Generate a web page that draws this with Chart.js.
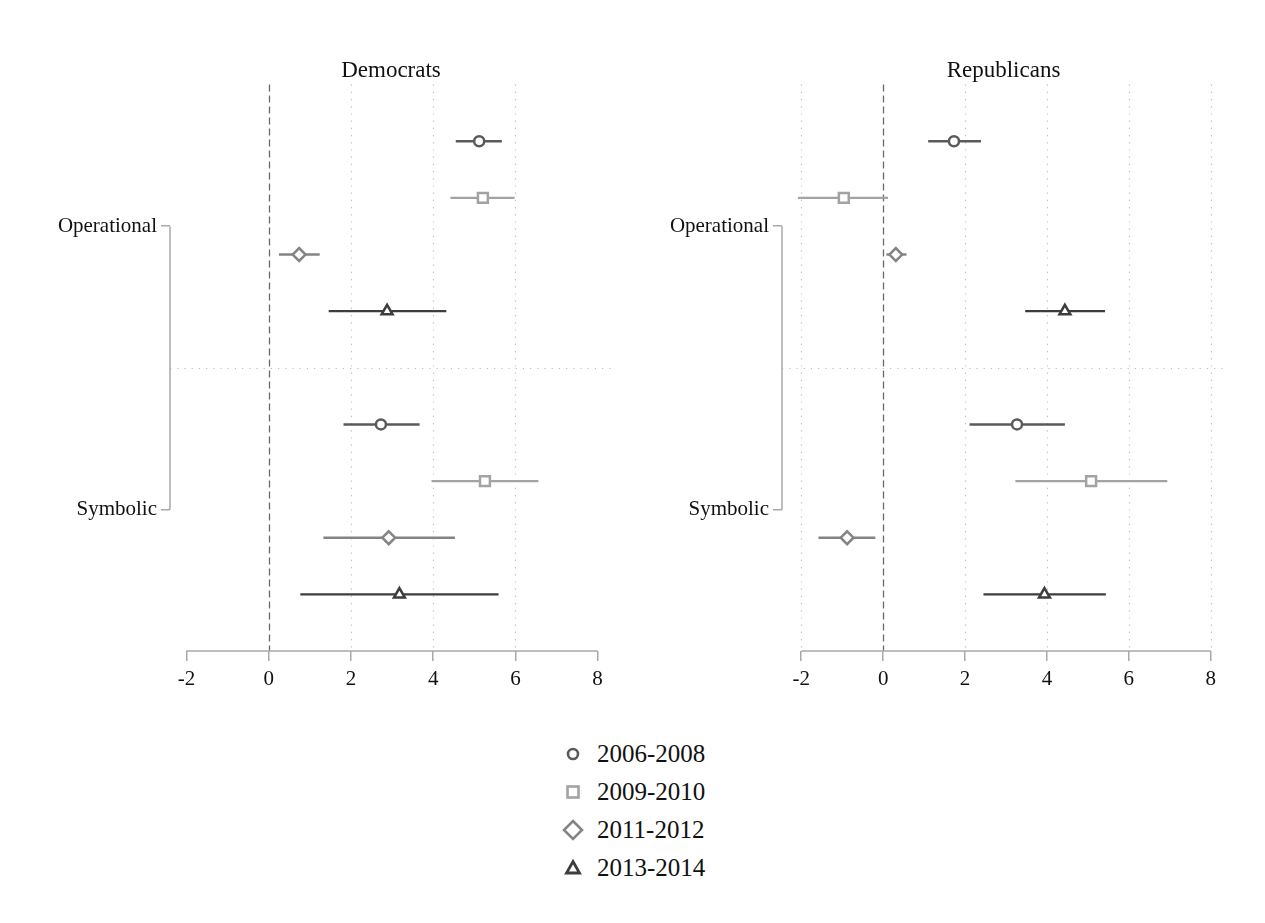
<!DOCTYPE html>
<html>
<head>
<meta charset="utf-8">
<script src="https://cdn.jsdelivr.net/npm/chart.js@4.4.1/dist/chart.umd.min.js"></script>
<style>
  body { margin: 0; background: #fff; width: 1265px; height: 923px; position: relative; overflow: hidden; font-family: "Liberation Serif", serif; }
  .panel { position: absolute; top: 0; height: 700px; }
  #demWrap { left: 0; width: 632px; }
  #repWrap { left: 612px; width: 633px; }
  #legend { position: absolute; left: 560px; top: 735px; }
  #legend .row { height: 38px; display: flex; align-items: center; font-size: 25px; color: #111; }
  #legend svg { width: 26px; height: 26px; margin-right: 11px; }
</style>
</head>
<body>
<div id="demWrap" class="panel"><canvas id="dem"></canvas></div>
<div id="repWrap" class="panel"><canvas id="rep"></canvas></div>
<div id="legend"></div>

<script>
// values ordered: Operational (4 periods), then Symbolic (4 periods)
const periods = ['2006-2008', '2009-2010', '2011-2012', '2013-2014'];
const groups = ['Operational', 'Symbolic'];
const xTicks = [-2, 0, 2, 4, 6, 8];

const demEst = [5.12, 5.21, 0.74, 2.88, 2.73, 5.26, 2.92, 3.18];
const demLo  = [4.55, 4.42, 0.25, 1.46, 1.82, 3.96, 1.33, 0.77];
const demHi  = [5.67, 5.98, 1.24, 4.32, 3.67, 6.56, 4.53, 5.59];

const repEst = [1.73, -0.96, 0.31, 4.44, 3.27, 5.08, -0.88, 3.94];
const repLo  = [1.10, -2.08, 0.08, 3.47, 2.11, 3.23, -1.58, 2.45];
const repHi  = [2.39, 0.12, 0.57, 5.42, 4.44, 6.94, -0.19, 5.44];

const colors = ['#5a5a5a', '#a3a3a3', '#848484', '#3d3d3d'];
const shapes = ['circle', 'rect', 'rectRot', 'triangle'];
const radii = [5, 7, 6.4, 6.3];

const FONT = '"Liberation Serif", "Times New Roman", serif';

// row position on the y scale: group g, period p
function rowOf(i) {
  const g = Math.floor(i / 4), p = i % 4;
  return g * 5 + p + 1;
}

function buildDatasets(est, lo, hi) {
  const sets = [];
  est.forEach((v, i) => {
    const p = i % 4;
    sets.push({
      type: 'line',
      data: [{ x: lo[i], y: rowOf(i) }, { x: hi[i], y: rowOf(i) }],
      borderColor: colors[p],
      borderWidth: 2.4,
      pointRadius: 0,
      order: 2
    });
  });
  periods.forEach((name, p) => {
    const pts = [];
    est.forEach((v, i) => { if (i % 4 === p) pts.push({ x: v, y: rowOf(i) }); });
    sets.push({
      type: 'scatter',
      label: name,
      data: pts,
      pointStyle: shapes[p],
      pointRadius: radii[p],
      pointBorderWidth: 2.5,
      borderColor: colors[p],
      backgroundColor: '#fff',
      order: 1
    });
  });
  return sets;
}

const decor = {
  id: 'decor',
  beforeDatasetsDraw(chart, args, opts) {
    const { ctx, chartArea: a, scales: { x, y } } = chart;
    ctx.save();
    // dotted grid
    ctx.strokeStyle = '#bdbdbd';
    ctx.lineWidth = 1.2;
    ctx.setLineDash([1.2, 6]);
    opts.grid.forEach(v => {
      const px = Math.round(x.getPixelForValue(v)) + 0.5;
      ctx.beginPath(); ctx.moveTo(px, a.top); ctx.lineTo(px, a.bottom); ctx.stroke();
    });
    // separator between groups
    const sy = Math.round(y.getPixelForValue(5)) + 0.5;
    ctx.beginPath(); ctx.moveTo(a.left, sy); ctx.lineTo(a.right, sy); ctx.stroke();
    // zero reference
    ctx.strokeStyle = '#6a6a6a';
    ctx.lineWidth = 1.3;
    ctx.setLineDash([7, 4]);
    const zx = Math.round(x.getPixelForValue(0)) + 0.5;
    ctx.beginPath(); ctx.moveTo(zx, a.top); ctx.lineTo(zx, a.bottom); ctx.stroke();
    // bracket (y axis line between group ticks)
    ctx.setLineDash([]);
    ctx.strokeStyle = '#a8a8a8';
    ctx.lineWidth = 1.5;
    ctx.beginPath();
    ctx.moveTo(a.left, y.getPixelForValue(2.5));
    ctx.lineTo(a.left, y.getPixelForValue(7.5));
    ctx.stroke();
    // x axis line
    ctx.beginPath();
    ctx.moveTo(x.getPixelForValue(-2), a.bottom);
    ctx.lineTo(x.getPixelForValue(8), a.bottom);
    ctx.stroke();
    ctx.restore();
  }
};

function makeChart(id, title, est, lo, hi, gridVals, xMin) {
  return new Chart(document.getElementById(id), {
    data: { datasets: buildDatasets(est, lo, hi) },
    plugins: [decor],
    options: {
      responsive: true,
      maintainAspectRatio: false,
      animation: false,
      layout: { padding: { left: 20, right: 20, top: 0, bottom: 0 } },
      plugins: {
        legend: { display: false },
        tooltip: { enabled: false },
        title: {
          display: true, text: title, fullSize: false, color: '#111',
          font: { family: FONT, size: 23, weight: 'normal' },
          padding: { top: 57, bottom: 0 }
        },
        decor: { grid: gridVals }
      },
      scales: {
        x: {
          type: 'linear', min: xMin, max: 8.35,
          afterBuildTicks: s => { s.ticks = xTicks.map(v => ({ value: v })); },
          afterFit: s => { s.height = 49; },
          grid: { drawOnChartArea: false, drawTicks: true, tickLength: 10, color: '#a8a8a8', lineWidth: 1.5 },
          border: { display: false },
          ticks: { color: '#111', padding: 6, maxRotation: 0, font: { family: FONT, size: 21 } }
        },
        y: {
          type: 'linear', min: 0, max: 10, reverse: true,
          afterBuildTicks: s => { s.ticks = [{ value: 2.5 }, { value: 7.5 }]; },
          afterFit: s => { s.width = 150; },
          grid: { drawOnChartArea: false, drawTicks: true, tickLength: 9, color: '#a8a8a8', lineWidth: 1.5 },
          border: { display: false },
          ticks: {
            color: '#111', padding: 4, font: { family: FONT, size: 21 },
            callback: v => (v === 2.5 ? groups[0] : v === 7.5 ? groups[1] : '')
          }
        }
      }
    }
  });
}

makeChart('dem', 'Democrats', demEst, demLo, demHi, [2, 4, 6], -2.4);
makeChart('rep', 'Republicans', repEst, repLo, repHi, [-2, 2, 4, 6, 8], -2.47);

// legend
const marks = [
  '<circle cx="13" cy="13" r="5" fill="#fff" stroke="' + colors[0] + '" stroke-width="2.6"/>',
  '<rect x="7.5" y="7.5" width="11" height="11" fill="#fff" stroke="' + colors[1] + '" stroke-width="2.6"/>',
  '<polygon points="13,4 22,13 13,22 4,13" fill="#fff" stroke="' + colors[2] + '" stroke-width="2.6"/>',
  '<polygon points="13,6.5 19.5,18 6.5,18" fill="#fff" stroke="' + colors[3] + '" stroke-width="2.8" stroke-linejoin="miter"/>'
];
document.getElementById('legend').innerHTML = periods.map((p, i) =>
  '<div class="row"><svg viewBox="0 0 26 26">' + marks[i] + '</svg><span>' + p + '</span></div>'
).join('');
</script>
</body>
</html>
